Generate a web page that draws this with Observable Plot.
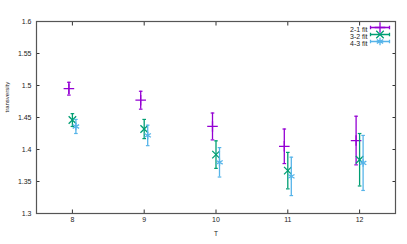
<!DOCTYPE html>
<html>
<head>
<meta charset="utf-8">
<script src="https://cdn.jsdelivr.net/npm/d3@7"></script>
<script src="https://cdn.jsdelivr.net/npm/@observablehq/plot@0.6"></script>
<style>
  html, body { margin: 0; padding: 0; background: #fff; }
  svg { display: block; }
</style>
</head>
<body>
<div id="chart"></div>
<script>
const T = [8, 9, 10, 11, 12];
const seriesNames = ["2-1 fit", "3-2 fit", "4-3 fit"];
const fit21 = [1.495, 1.477, 1.436, 1.405, 1.414];
const err21 = [0.010, 0.014, 0.021, 0.027, 0.038];
const fit32 = [1.446, 1.432, 1.392, 1.367, 1.384];
const err32 = [0.010, 0.015, 0.0215, 0.0285, 0.041];
const fit43 = [1.436, 1.422, 1.380, 1.358, 1.379];
const err43 = [0.011, 0.016, 0.023, 0.030, 0.043];
const yTicks = [1.3, 1.35, 1.4, 1.45, 1.5, 1.55, 1.6];
const xDomain = [7.5, 12.5];
const yDomain = [1.3, 1.6];

const colors = ["#9400d3", "#009e73", "#56b4e9"];
const symbols = ["plus", "times", "asterisk"];
const dxs = [-3.5, 0, 3.5];
const vals = [fit21, fit32, fit43];
const errs = [err21, err32, err43];

const cap = {draw(ctx, size) { const r = Math.sqrt(size / Math.PI); ctx.moveTo(-r, 0); ctx.lineTo(r, 0); }};
const keySample = {draw(ctx, size) {
  const r = Math.sqrt(size / Math.PI);
  ctx.moveTo(-r, 0); ctx.lineTo(r, 0);
  ctx.moveTo(-r, -1.8); ctx.lineTo(-r, 1.8);
  ctx.moveTo(r, -1.8); ctx.lineTo(r, 1.8);
}};

const marks = [];
seriesNames.forEach((name, s) => {
  const data = T.map((t, i) => ({t, v: vals[s][i], lo: vals[s][i] - errs[s][i], hi: vals[s][i] + errs[s][i]}));
  marks.push(
    Plot.ruleX(data, {x: "t", y1: "lo", y2: "hi", dx: dxs[s], stroke: colors[s], strokeWidth: 1.3}),
    Plot.dot(data, {x: "t", y: "lo", dx: dxs[s], symbol: cap, r: 1.8, stroke: colors[s], strokeWidth: 1.2}),
    Plot.dot(data, {x: "t", y: "hi", dx: dxs[s], symbol: cap, r: 1.8, stroke: colors[s], strokeWidth: 1.2}),
    Plot.dot(data, {x: "t", y: "v", dx: dxs[s], symbol: symbols[s], r: 3.5, stroke: colors[s], strokeWidth: 1.3}),
    // legend
    Plot.text([name], {frameAnchor: "top-right", text: d => d, dx: -28, dy: 6 + 7 * s, textAnchor: "end", fontSize: 7, fill: "#222"}),
    Plot.dot([name], {frameAnchor: "top-right", dx: -15.5, dy: 6 + 7 * s, symbol: keySample, r: 9.5, stroke: colors[s], strokeWidth: 1.3}),
    Plot.dot([name], {frameAnchor: "top-right", dx: -15.5, dy: 6 + 7 * s, symbol: symbols[s], r: 3.5, stroke: colors[s], strokeWidth: 1.3})
  );
});

const chart = Plot.plot({
  width: 407,
  height: 244,
  marginLeft: 36,
  marginRight: 12,
  marginTop: 21,
  marginBottom: 31,
  style: {fontFamily: "Liberation Sans, Arial, sans-serif", fontSize: "7px", color: "#222", background: "#fff"},
  x: {domain: xDomain},
  y: {domain: yDomain},
  marks: [
    Plot.axisX({anchor: "bottom", ticks: T, tickSize: 0, tickPadding: 4, tickFormat: d => String(d), label: null, fontSize: 7}),
    Plot.axisX({anchor: "bottom", ticks: T, tickSize: -3.5, tickFormat: () => "", label: null, stroke: "#333"}),
    Plot.axisX({anchor: "top", ticks: T, tickSize: -3.5, tickFormat: () => "", label: null, stroke: "#333"}),
    Plot.axisY({anchor: "left", ticks: yTicks, tickSize: 0, tickPadding: 5, tickFormat: d => String(+d.toFixed(2)), label: null, fontSize: 7}),
    Plot.axisY({anchor: "left", ticks: yTicks, tickSize: -3.5, tickFormat: () => "", label: null, stroke: "#333"}),
    Plot.axisY({anchor: "right", ticks: yTicks, tickSize: -3.5, tickFormat: () => "", label: null, stroke: "#333"}),
    Plot.frame({stroke: "#555", strokeWidth: 1.2}),
    Plot.text(["transversity"], {frameAnchor: "left", text: d => d, dx: -29, dy: -5, rotate: -90, fontSize: 6, fill: "#222"}),
    Plot.text(["T"], {frameAnchor: "bottom", text: d => d, dy: 22, fontSize: 6.5, fill: "#222"}),
    ...marks
  ]
});
document.getElementById("chart").appendChild(chart);
</script>
</body>
</html>
